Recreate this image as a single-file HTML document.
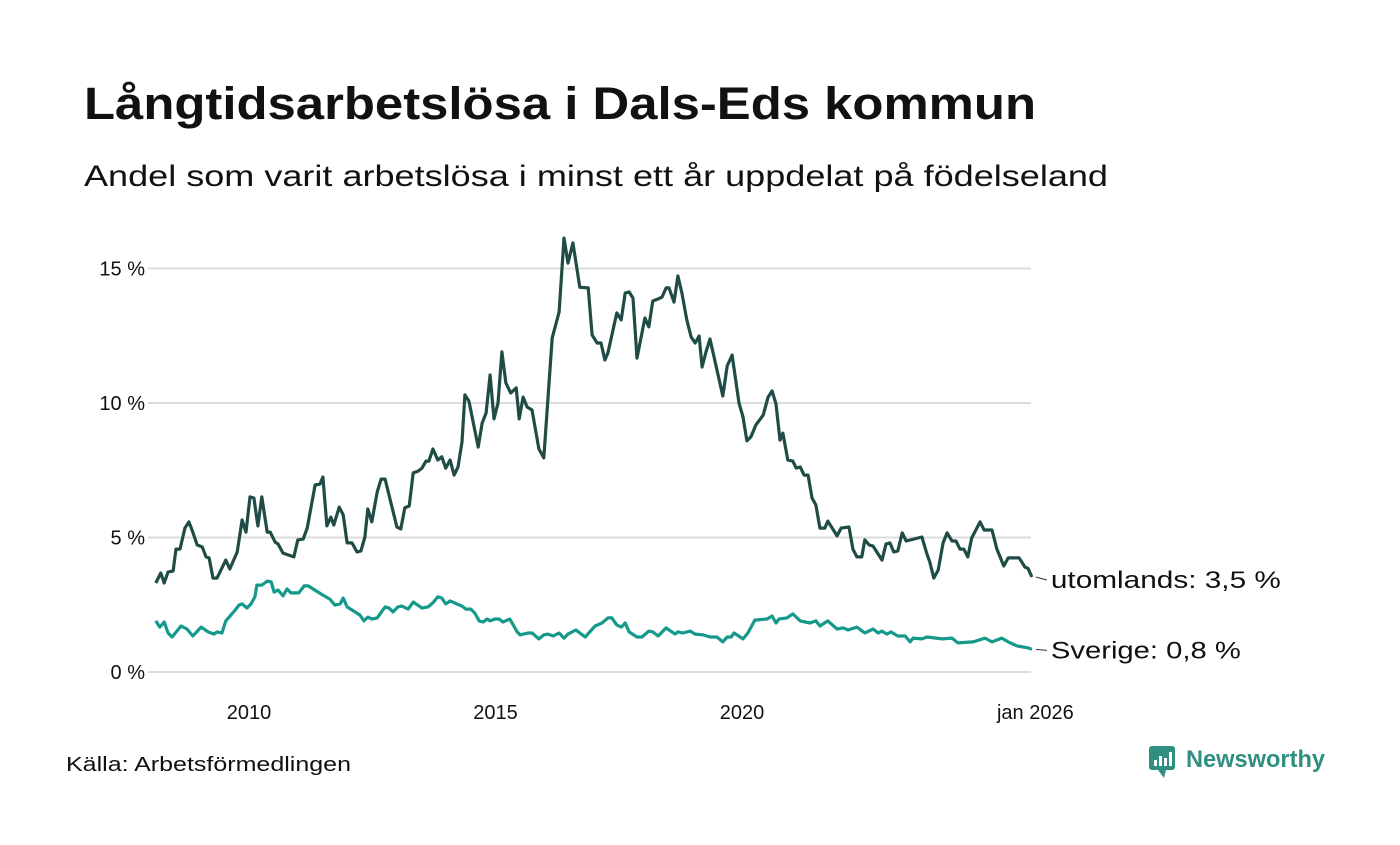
<!DOCTYPE html>
<html><head><meta charset="utf-8"><style>
body{margin:0;background:#fff;width:1400px;height:840px;overflow:hidden;font-family:"Liberation Sans","DejaVu Sans",sans-serif;color:#111}
</style></head><body>
<svg id="c" width="1400" height="840" xmlns="http://www.w3.org/2000/svg">
<text x="84" y="119" font-size="45" font-weight="bold" fill="#111" textLength="952" lengthAdjust="spacingAndGlyphs">Långtidsarbetslösa i Dals-Eds kommun</text>
<text x="84" y="186" font-size="30" fill="#111" textLength="1024" lengthAdjust="spacingAndGlyphs">Andel som varit arbetslösa i minst ett år uppdelat på födelseland</text>
<g id="grid"></g><g id="lines"></g>
<text x="66" y="771" font-size="20" fill="#111" textLength="285" lengthAdjust="spacingAndGlyphs">Källa: Arbetsförmedlingen</text>
<g>
<rect x="1149" y="746" width="26" height="24" rx="3" fill="#2f8f80"/>
<polygon points="1158,770 1164,778 1166,770" fill="#2f8f80"/>
<rect x="1154" y="760" width="3" height="6" fill="#fff"/><rect x="1159" y="756" width="3" height="10" fill="#fff"/><rect x="1164" y="758" width="3" height="8" fill="#fff"/><rect x="1169" y="752" width="3" height="14" fill="#fff"/>
<text x="1186" y="767" font-size="24" font-weight="bold" fill="#2f8f80" textLength="139" lengthAdjust="spacingAndGlyphs">Newsworthy</text>
</g>
</svg>
<script>
const yTicks=[0,5,10,15];
const yTickLabels=["0 %","5 %","10 %","15 %"];
const xTicks=[2010,2015,2020,2025.95];
const xTickLabels=["2010","2015","2020","jan 2026"];
const utDates=[2008.11,2008.21,2008.28,2008.36,2008.46,2008.52,2008.60,2008.70,2008.78,2008.86,2008.95,2009.05,2009.13,2009.19,2009.27,2009.35,2009.53,2009.61,2009.76,2009.86,2009.94,2010.02,2010.10,2010.18,2010.26,2010.37,2010.43,2010.53,2010.59,2010.69,2010.91,2010.99,2011.10,2011.18,2011.34,2011.44,2011.50,2011.58,2011.66,2011.72,2011.83,2011.91,2011.99,2012.09,2012.19,2012.27,2012.35,2012.41,2012.49,2012.60,2012.68,2012.76,2013.00,2013.08,2013.16,2013.25,2013.33,2013.43,2013.51,2013.59,2013.65,2013.73,2013.83,2013.91,2013.99,2014.08,2014.16,2014.24,2014.32,2014.38,2014.46,2014.65,2014.73,2014.81,2014.89,2014.97,2015.05,2015.13,2015.21,2015.31,2015.42,2015.48,2015.56,2015.64,2015.74,2015.88,2015.98,2016.15,2016.29,2016.39,2016.47,2016.57,2016.71,2016.88,2016.96,2017.06,2017.14,2017.22,2017.28,2017.46,2017.55,2017.63,2017.71,2017.79,2017.87,2018.03,2018.11,2018.19,2018.30,2018.38,2018.46,2018.52,2018.62,2018.70,2018.78,2018.88,2018.97,2019.05,2019.13,2019.19,2019.27,2019.35,2019.61,2019.70,2019.80,2019.94,2020.02,2020.10,2020.18,2020.28,2020.43,2020.53,2020.61,2020.69,2020.77,2020.83,2020.93,2021.03,2021.10,2021.18,2021.26,2021.34,2021.42,2021.50,2021.58,2021.68,2021.74,2021.93,2022.01,2022.17,2022.25,2022.33,2022.43,2022.49,2022.58,2022.66,2022.84,2022.92,2023.00,2023.08,2023.16,2023.25,2023.33,2023.65,2023.75,2023.81,2023.89,2023.98,2024.08,2024.16,2024.26,2024.34,2024.42,2024.50,2024.58,2024.66,2024.83,2024.91,2025.07,2025.17,2025.31,2025.40,2025.62,2025.74,2025.80,2025.88];
const utValues=[3.31,3.68,3.31,3.72,3.75,4.57,4.57,5.35,5.58,5.20,4.72,4.65,4.28,4.24,3.49,3.49,4.16,3.83,4.46,5.65,5.20,6.51,6.47,5.43,6.51,5.20,5.20,4.83,4.76,4.42,4.28,4.91,4.94,5.35,6.95,6.99,7.25,5.43,5.76,5.46,6.13,5.84,4.80,4.80,4.46,4.50,5.02,6.06,5.58,6.69,7.17,7.17,5.39,5.32,6.10,6.17,7.40,7.47,7.58,7.84,7.84,8.29,7.88,8.00,7.58,7.88,7.32,7.62,8.55,10.30,10.07,8.36,9.26,9.63,11.04,9.41,10.00,11.90,10.74,10.37,10.56,9.41,10.22,9.85,9.74,8.29,7.96,12.42,13.38,16.13,15.20,15.95,14.30,14.28,12.53,12.23,12.23,11.60,11.86,13.35,13.09,14.09,14.13,13.90,11.67,13.16,12.83,13.79,13.87,13.94,14.28,14.28,13.75,14.72,14.09,13.09,12.45,12.23,12.49,11.34,11.90,12.38,10.26,11.38,11.78,10.00,9.48,8.59,8.74,9.18,9.55,10.22,10.45,9.96,8.62,8.88,7.88,7.84,7.58,7.62,7.32,7.32,6.47,6.21,5.35,5.35,5.61,5.06,5.35,5.39,4.57,4.28,4.28,4.91,4.72,4.68,4.16,4.76,4.80,4.46,4.50,5.17,4.87,5.02,4.39,4.09,3.49,3.79,4.80,5.17,4.87,4.87,4.57,4.57,4.28,4.98,5.58,5.28,5.28,4.57,3.94,4.24,4.24,3.90,3.86,3.53];
const svDates=[2008.11,2008.19,2008.28,2008.36,2008.44,2008.62,2008.74,2008.86,2009.03,2009.17,2009.29,2009.35,2009.45,2009.53,2009.72,2009.80,2009.86,2009.96,2010.04,2010.12,2010.16,2010.26,2010.37,2010.45,2010.51,2010.59,2010.69,2010.77,2010.85,2011.01,2011.12,2011.20,2011.50,2011.64,2011.74,2011.85,2011.91,2011.99,2012.25,2012.33,2012.41,2012.49,2012.60,2012.76,2012.84,2012.92,2013.02,2013.10,2013.23,2013.33,2013.51,2013.63,2013.73,2013.83,2013.91,2013.99,2014.08,2014.32,2014.40,2014.50,2014.58,2014.67,2014.75,2014.83,2014.89,2014.99,2015.07,2015.15,2015.29,2015.44,2015.50,2015.66,2015.74,2015.88,2015.98,2016.06,2016.17,2016.29,2016.39,2016.47,2016.63,2016.71,2016.82,2017.02,2017.16,2017.28,2017.36,2017.46,2017.55,2017.63,2017.71,2017.87,2017.97,2018.11,2018.19,2018.30,2018.46,2018.64,2018.70,2018.80,2018.95,2019.05,2019.21,2019.35,2019.49,2019.61,2019.70,2019.78,2019.84,2020.02,2020.12,2020.26,2020.51,2020.61,2020.69,2020.75,2020.91,2021.03,2021.18,2021.38,2021.50,2021.58,2021.74,2021.93,2022.05,2022.15,2022.33,2022.49,2022.66,2022.76,2022.84,2022.94,2023.02,2023.16,2023.31,2023.41,2023.47,2023.65,2023.75,2024.06,2024.26,2024.38,2024.69,2024.93,2025.07,2025.27,2025.40,2025.58,2025.70,2025.80,2025.88];
const svValues=[1.90,1.67,1.86,1.45,1.30,1.71,1.60,1.34,1.67,1.49,1.41,1.49,1.45,1.90,2.30,2.49,2.53,2.38,2.53,2.79,3.23,3.23,3.38,3.35,2.97,3.05,2.83,3.09,2.94,2.94,3.20,3.20,2.86,2.71,2.49,2.53,2.75,2.42,2.12,1.90,2.04,1.97,2.01,2.42,2.38,2.23,2.42,2.45,2.34,2.60,2.38,2.42,2.57,2.79,2.75,2.53,2.64,2.45,2.34,2.34,2.19,1.90,1.86,1.97,1.90,1.97,1.97,1.86,1.97,1.49,1.38,1.45,1.45,1.23,1.38,1.41,1.34,1.45,1.26,1.41,1.56,1.45,1.30,1.71,1.82,2.01,2.01,1.75,1.67,1.82,1.49,1.30,1.30,1.52,1.49,1.34,1.64,1.41,1.49,1.45,1.52,1.41,1.38,1.30,1.30,1.12,1.30,1.30,1.45,1.23,1.45,1.93,1.97,2.08,1.82,1.97,2.01,2.16,1.90,1.82,1.90,1.71,1.90,1.60,1.64,1.56,1.67,1.45,1.60,1.45,1.52,1.41,1.49,1.34,1.34,1.12,1.26,1.23,1.30,1.23,1.26,1.08,1.12,1.26,1.12,1.26,1.12,0.97,0.93,0.90,0.84];
const X0=148,X1=1031;
function xs(yr){return 249+(yr-2010)*49.3;}
function ys(v){return 672-v*26.9;}
const NS="http://www.w3.org/2000/svg";
const grid=document.getElementById('grid'),lines=document.getElementById('lines');
function mk(tag,attrs,parent){const e=document.createElementNS(NS,tag);for(const k in attrs)e.setAttribute(k,attrs[k]);parent.appendChild(e);return e;}
yTicks.forEach((t,i)=>{
 const l=mk('line',{x1:X0,x2:X1,y1:ys(t),y2:ys(t),stroke:'#dcdcdc','stroke-width':2},grid);
 
 
 const tx=mk('text',{x:145,y:ys(t)+7,'text-anchor':'end','font-size':20,fill:'#111'},grid);
 tx.textContent=yTickLabels[i];
 
 
});
xTicks.forEach((t,i)=>{
 const tx=mk('text',{x:xs(t),y:719,'text-anchor':'middle','font-size':20,fill:'#111'},grid);
 tx.textContent=xTickLabels[i];
 
 
});
function series(dates,vals,color,name,label,w){
 const d=dates.map((t,i)=>(i?'L':'M')+xs(t).toFixed(1)+','+ys(vals[i]).toFixed(1)).join('');
 const p=mk('path',{d:d,fill:'none',stroke:color,'stroke-width':3.2,'stroke-linejoin':'round'},lines);
 
 
 const lx=xs(dates[dates.length-1]),ly=ys(vals[vals.length-1]);
 const ty=name==='utomlands'?ly+3:ly+1;
 const c=mk('line',{x1:lx+4,y1:ly,x2:lx+15,y2:ty,stroke:'#333','stroke-width':1},lines);
 
 
 const t=mk('text',{x:lx+19,y:ty+8,'font-size':24,fill:'#111',textLength:w,lengthAdjust:'spacingAndGlyphs'},lines);
 t.textContent=label+': '+vals[vals.length-1].toFixed(1).replace('.',',')+' %';
 
 
}
series(utDates,utValues,'#1f4d46','utomlands','utomlands',230);
series(svDates,svValues,'#14998a','sverige','Sverige',190);
</script>
</body></html>
